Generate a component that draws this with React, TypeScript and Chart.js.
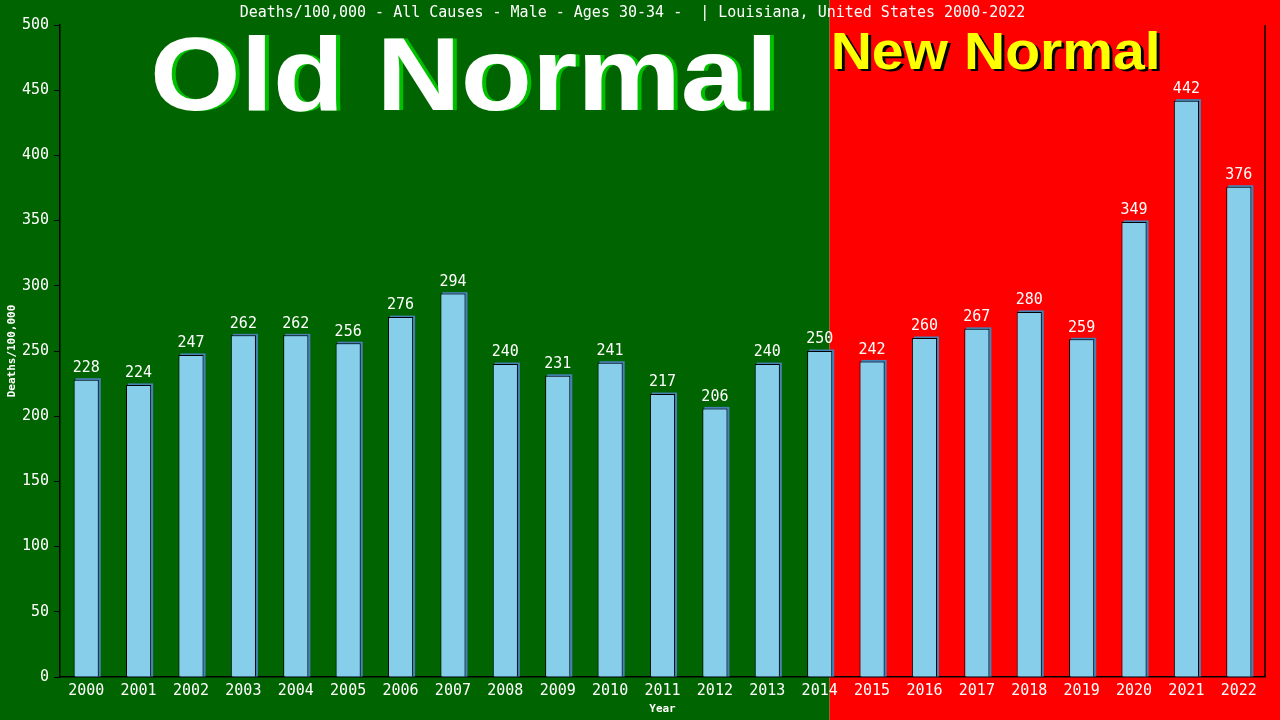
import React, { useEffect, useRef } from "react";
import { Chart, registerables } from "chart.js";

Chart.register(...registerables);

const years = ["2000","2001","2002","2003","2004","2005","2006","2007","2008","2009","2010","2011","2012","2013","2014","2015","2016","2017","2018","2019","2020","2021","2022"];
const deathsPer100k = [228,224,247,262,262,256,276,294,240,231,241,217,206,240,250,242,260,267,280,259,349,442,376];
const titleText = "Deaths/100,000 - All Causes - Male - Ages 30-34 -  | Louisiana, United States 2000-2022";
const yAxisTitle = "Deaths/100,000";
const xAxisTitle = "Year";
const oldLabel = "Old Normal";
const newLabel = "New Normal";
const dividerIndex = 14.19;

const MONO = '"DejaVu Sans Mono", "Liberation Mono", monospace';

function drawBigText(ctx: CanvasRenderingContext2D, text: string, x: number, y: number, size: number, fill: string, shadow: string, dx: number, dy: number, targetWidth: number) {
  ctx.save();
  ctx.font = `bold ${size}px "Liberation Sans", Arial, sans-serif`;
  ctx.textAlign = "left";
  ctx.textBaseline = "alphabetic";
  const w = ctx.measureText(text).width;
  const sx = targetWidth / w;
  ctx.translate(x, y);
  ctx.scale(sx, 1);
  ctx.fillStyle = shadow;
  ctx.fillText(text, dx / sx, dy);
  ctx.fillStyle = fill;
  ctx.fillText(text, 0, 0);
  ctx.restore();
}

const bgPlugin = {
  id: "bgPlugin",
  beforeDraw(chart: any) {
    const ctx = chart.ctx as CanvasRenderingContext2D;
    const xs = chart.scales.x;
    const divX = xs.getPixelForValue(dividerIndex);
    ctx.save();
    ctx.fillStyle = "#006400";
    ctx.fillRect(0, 0, divX, chart.height);
    ctx.fillStyle = "#FF0000";
    ctx.fillRect(divX, 0, chart.width - divX, chart.height);
    ctx.restore();
  },
  beforeDatasetsDraw(chart: any) {
    const ctx = chart.ctx as CanvasRenderingContext2D;
    const xs = chart.scales.x;
    const divX = xs.getPixelForValue(dividerIndex);
    drawBigText(ctx, oldLabel, 150, 110, 104, "#FFFFFF", "#00C000", 4, 0, 628);
    drawBigText(ctx, newLabel, divX + 1, 69, 51, "#FFFF00", "#000000", 3, 2, 330);
    // bar shadows
    const meta = chart.getDatasetMeta(0);
    ctx.save();
    ctx.fillStyle = "#4682B4";
    meta.data.forEach((bar: any) => {
      const { x, y, base, width } = bar.getProps(["x", "y", "base", "width"], true);
      ctx.fillRect(x - width / 2 + 2, y - 1.5, width, base - y + 1.5);
    });
    ctx.restore();
  },
  afterDatasetsDraw(chart: any) {
    const ctx = chart.ctx as CanvasRenderingContext2D;
    const meta = chart.getDatasetMeta(0);
    ctx.save();
    ctx.font = `15px ${MONO}`;
    ctx.fillStyle = "#FFFFFF";
    ctx.textAlign = "center";
    ctx.textBaseline = "bottom";
    meta.data.forEach((bar: any, i: number) => {
      const { x, y } = bar.getProps(["x", "y"], true);
      ctx.fillText(String(deathsPer100k[i]), x, y - 4);
    });
    ctx.restore();
  },
  afterDraw(chart: any) {
    const ctx = chart.ctx as CanvasRenderingContext2D;
    const a = chart.chartArea;
    ctx.save();
    ctx.strokeStyle = "#000000";
    ctx.lineWidth = 1.5;
    ctx.beginPath();
    ctx.moveTo(a.right, a.top);
    ctx.lineTo(a.right, a.bottom);
    ctx.stroke();
    ctx.restore();
  },
};

export default function App() {
  const ref = useRef<HTMLCanvasElement>(null);
  useEffect(() => {
    document.body.style.margin = "0";
    const canvas = ref.current!;
    const chart = new Chart(canvas, {
      type: "bar",
      data: {
        labels: years,
        datasets: [
          {
            data: deathsPer100k,
            backgroundColor: "#87CEEB",
            borderColor: "#000000",
            borderWidth: 1,
            barPercentage: 0.48,
            categoryPercentage: 1,
          },
        ],
      },
      options: {
        animation: false,
        responsive: false,
        devicePixelRatio: 1,
        layout: { padding: { top: 0, right: 15, bottom: 0, left: 0 } },
        plugins: {
          legend: { display: false },
          tooltip: { enabled: false },
          title: {
            display: true,
            text: titleText,
            color: "#FFFFFF",
            font: { family: MONO, size: 15, weight: "normal", lineHeight: 1.2 },
            padding: { top: 4, bottom: 3 },
          },
        },
        scales: {
          x: {
            afterFit: (s: any) => { s.height = 43; },
            grid: { display: false, drawTicks: false },
            border: { display: true, color: "#000000", width: 1.5 },
            ticks: { color: "#FFFFFF", font: { family: MONO, size: 15 }, padding: 5, maxRotation: 0, autoSkip: false },
            title: { display: true, text: xAxisTitle, color: "#FFFFFF", font: { family: MONO, size: 11, weight: "bold" }, padding: { top: 0, bottom: 4 } },
          },
          y: {
            min: 0,
            max: 500,
            afterFit: (s: any) => { s.width = 60; },
            ticks: { stepSize: 50, color: "#FFFFFF", font: { family: MONO, size: 15 }, padding: 5 },
            grid: { drawOnChartArea: false, drawTicks: true, tickLength: 6, color: "#000000" },
            border: { display: true, color: "#000000", width: 1.5 },
            title: { display: true, text: yAxisTitle, color: "#FFFFFF", font: { family: MONO, size: 11, weight: "bold" }, padding: { top: 6, bottom: 0 } },
          },
        },
      },
      plugins: [bgPlugin],
    });
    return () => chart.destroy();
  }, []);
  return <canvas ref={ref} width={1280} height={720} style={{ display: "block", width: 1280, height: 720 }} />;
}
